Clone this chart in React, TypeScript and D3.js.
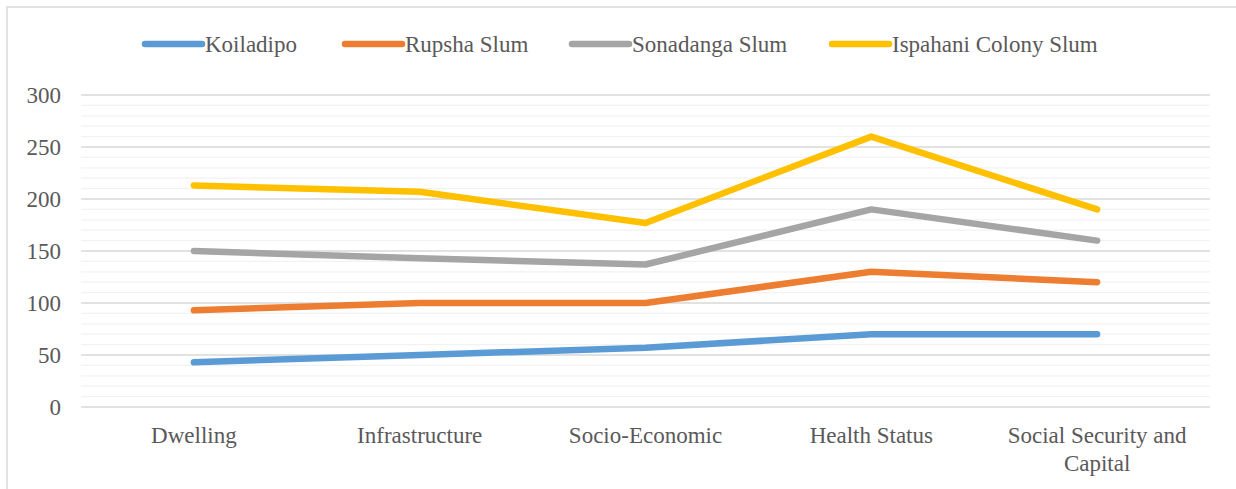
import React from "react";
import * as d3 from "d3";

const categories: string[][] = [
  ["Dwelling"],
  ["Infrastructure"],
  ["Socio-Economic"],
  ["Health Status"],
  ["Social Security and", "Capital"],
];
const seriesNames = ["Koiladipo", "Rupsha Slum", "Sonadanga Slum", "Ispahani Colony Slum"];
const seriesColors = ["#5B9BD5", "#ED7D31", "#A5A5A5", "#FFC000"];
const koiladipo = [43, 50, 57, 70, 70];
const rupsha = [93, 100, 100, 130, 120];
const sonadanga = [150, 143, 137, 190, 160];
const ispahani = [213, 207, 177, 260, 190];
const yTicks = [0, 50, 100, 150, 200, 250, 300];
const minorTicks = d3.range(0, 301, 10);

const W = 1236;
const H = 489;
const left = 81;
const right = 1210;
const top = 95;
const bottom = 407;
const FONT = "Liberation Serif, Times New Roman, DejaVu Serif, serif";
const TXT = "#595959";

export default function App() {
  const x = d3
    .scaleBand<number>()
    .domain(categories.map((_, i) => i))
    .range([left, right]);
  const y = d3.scaleLinear().domain([0, 300]).range([bottom, top]);
  const data = [koiladipo, rupsha, sonadanga, ispahani];
  const line = d3
    .line<number>()
    .x((_, i) => (x(i) as number) + x.bandwidth() / 2)
    .y((d) => y(d));

  const legendX = [145, 345, 572, 832];
  const ts = { fontFamily: FONT, fontSize: "23px" } as React.CSSProperties;

  return (
    <svg
      width={W}
      height={H}
      style={{ position: "fixed", left: 0, top: 0, background: "#fff", fontFamily: FONT }}
    >
      <rect x={7} y={7} width={W + 20} height={H + 20} fill="#fff" stroke="#D9D9D9" strokeWidth={1.5} />
      {minorTicks.map((t) => (
        <line
          key={"m" + t}
          x1={left}
          x2={right}
          y1={y(t)}
          y2={y(t)}
          stroke={t % 50 === 0 ? "#D9D9D9" : "#F2F2F2"}
          strokeWidth={1.3}
        />
      ))}
      {yTicks.map((t) => (
        <text key={"t" + t} x={61} y={y(t)} dy="0.35em" textAnchor="end" style={ts} fill={TXT}>
          {t}
        </text>
      ))}
      {categories.map((c, i) => (
        <text
          key={"c" + i}
          x={(x(i) as number) + x.bandwidth() / 2}
          y={443}
          textAnchor="middle"
          style={ts}
          fill={TXT}
        >
          {c.map((l, j) => (
            <tspan key={j} x={(x(i) as number) + x.bandwidth() / 2} dy={j === 0 ? 0 : 28}>
              {l}
            </tspan>
          ))}
        </text>
      ))}
      {data.map((s, k) => (
        <path
          key={"s" + k}
          d={line(s) as string}
          fill="none"
          stroke={seriesColors[k]}
          strokeWidth={6.5}
          strokeLinecap="round"
          strokeLinejoin="round"
        />
      ))}
      {seriesNames.map((n, k) => (
        <g key={"l" + k}>
          <line
            x1={legendX[k]}
            x2={legendX[k] + 57}
            y1={44}
            y2={44}
            stroke={seriesColors[k]}
            strokeWidth={6.5}
            strokeLinecap="round"
          />
          <text x={legendX[k] + 60} y={44} dy="0.35em" style={ts} fill={TXT}>
            {n}
          </text>
        </g>
      ))}
    </svg>
  );
}
